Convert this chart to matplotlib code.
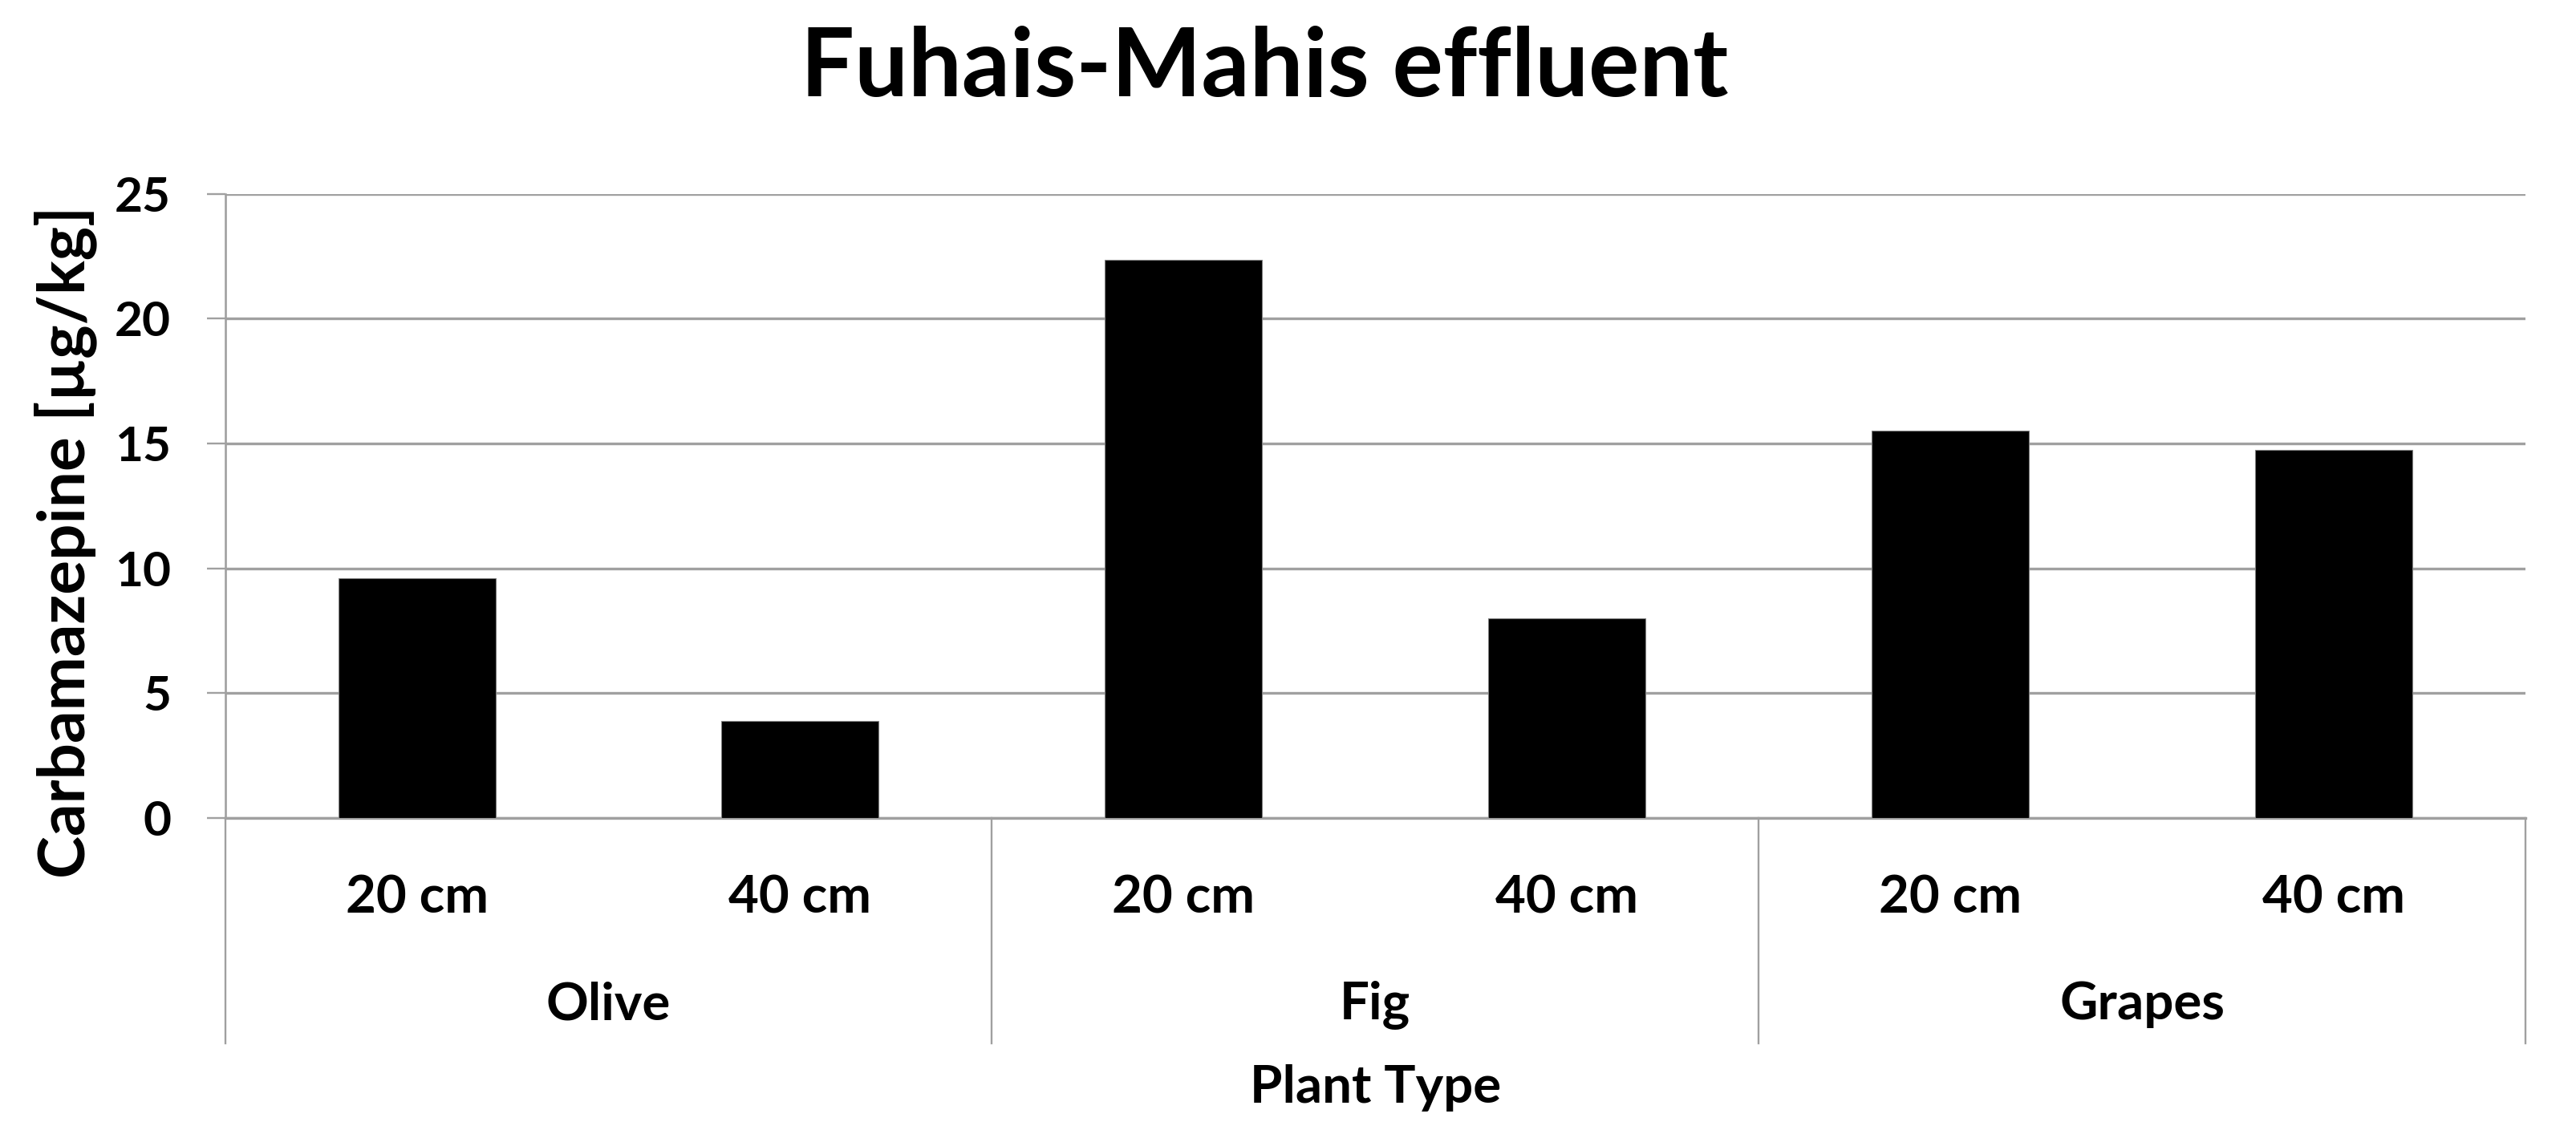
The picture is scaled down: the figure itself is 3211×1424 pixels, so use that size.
import matplotlib
matplotlib.use("Agg")
import matplotlib.pyplot as plt

# ---- data ----
groups = ["Olive", "Fig", "Grapes"]
depths = ["20 cm", "40 cm"]
values = [9.6, 3.9, 22.35, 8.0, 15.5, 14.75]
yticks = [0, 5, 10, 15, 20, 25]
title = "Fuhais-Mahis effluent"
ylabel = "Carbamazepine [µg/kg]"
xlabel = "Plant Type"

FONT = "Lato"
W, H = 3211, 1424
fig = plt.figure(figsize=(W / 100, H / 100), dpi=100)
fig.patch.set_facecolor("white")

ax_l, ax_r, ax_t, ax_b = 280.6, 3148, 241.7, 1020
ax = fig.add_axes([ax_l / W, 1 - ax_b / H, (ax_r - ax_l) / W, (ax_b - ax_t) / H])

n = len(values)
xs = list(range(n))
ax.bar(xs, values, width=0.41, color="black", edgecolor="#808080", linewidth=0.8, zorder=3)
ax.set_xlim(-0.5, n - 0.5)
ax.set_ylim(0, 25)
ax.set_yticks(yticks)
ax.set_yticklabels([str(v) for v in yticks])
ax.set_xticks([])

grid_c = "#A0A0A0"
ax.grid(axis="y", color=grid_c, linewidth=2.4, zorder=0)
for s in ["top", "right"]:
    ax.spines[s].set_visible(False)
ax.spines["bottom"].set_color(grid_c)
ax.spines["bottom"].set_linewidth(2.4)
ax.spines["left"].set_color(grid_c)
ax.spines["left"].set_linewidth(1.9)
ax.tick_params(axis="y", length=16.5, width=1.7, color=grid_c, pad=32)

renderer = fig.canvas.get_renderer()

def fit(t, target, vertical=False):
    bb = t.get_window_extent(renderer)
    w = bb.height if vertical else bb.width
    t.set_fontsize(t.get_fontsize() * target / w)
    return t.get_fontsize()

# tick label size
tmp = fig.text(0, 0, "25", fontsize=40, family=FONT, fontweight="bold")
tsize = fit(tmp, 70)
tmp.remove()
for lab in ax.get_yticklabels():
    lab.set_fontsize(tsize)
    lab.set_family(FONT)
    lab.set_fontweight("bold")

# separators (category axis lines)
xt = ax.get_xaxis_transform()
sep_bottom = -(1300.5 - ax_b) / (ax_b - ax_t)
ngroups = len(groups)
for i in range(ngroups + 1):
    xpos = -0.5 + i * len(depths)
    ax.plot([xpos, xpos], [0, sep_bottom], transform=xt, color=grid_c,
            linewidth=1.7, clip_on=False, zorder=1)

# labels
sub_y = -(1120 - ax_b) / (ax_b - ax_t)
grp_y = -(1253 - ax_b) / (ax_b - ax_t)
tmp = fig.text(0, 0, "20 cm", fontsize=40, family=FONT, fontweight="bold")
lsize = fit(tmp, 178)
tmp.remove()
for i, x in enumerate(xs):
    ax.text(x, sub_y, depths[i % len(depths)], transform=xt, ha="center", va="center",
            fontsize=lsize, family=FONT, fontweight="bold")
for g, name in enumerate(groups):
    cx = g * len(depths) + (len(depths) - 1) / 2
    ax.text(cx, grp_y, name, transform=xt, ha="center", va="center",
            fontsize=lsize, family=FONT, fontweight="bold")

t = fig.text(1576 / W, 1 - 1356 / H, xlabel, ha="center", va="center",
             fontsize=40, family=FONT, fontweight="bold")
fit(t, 313)
t.set_x((ax_l + ax_r) / 2 / W)

t = fig.text(1576 / W, 1 - 86 / H, title, ha="center", va="center",
             fontsize=80, family=FONT, fontweight="bold")
fit(t, 1157)

t = fig.text(82 / W, 1 - 676 / H, ylabel, ha="center", va="center", rotation=90,
             fontsize=50, family=FONT, fontweight="bold")
fit(t, 840, vertical=True)

fig.savefig("out.png", dpi=100, facecolor="white")
